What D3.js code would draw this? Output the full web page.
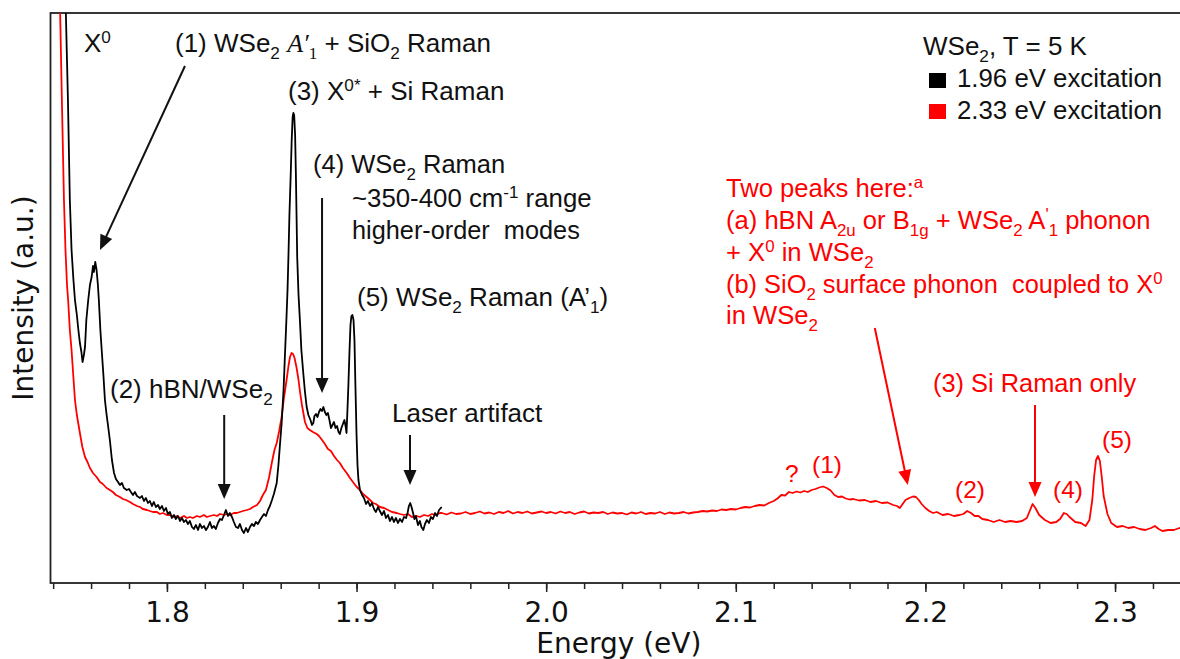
<!DOCTYPE html>
<html><head><meta charset="utf-8">
<script src="https://cdn.jsdelivr.net/npm/d3@7"></script>
<style>
html,body{margin:0;padding:0;background:#fff;}
text{white-space:pre;}
</style></head>
<body>
<svg id="chart" width="1180" height="659"></svg>
<script>
// ---------------- data ----------------
const energyDomain = [1.7386, 2.338];      // eV
const intensityDomain = [0, 114];          // a.u.
const majorTicks = [1.8, 1.9, 2.0, 2.1, 2.2, 2.3];
const minorTicks = [1.74,1.76,1.78,1.80,1.82,1.84,1.86,1.88,1.90,1.92,1.94,1.96,1.98,2.00,2.02,2.04,2.06,2.08,2.10,2.12,2.14,2.16,2.18,2.20,2.22,2.24,2.26,2.28,2.30,2.32];
const seriesNames = ["1.96 eV excitation", "2.33 eV excitation"];
const seriesColors = ["#000000", "#ff0000"];

// 1.96 eV excitation (black)
const exc196 = [
[1.7457,115.6],[1.7467,114.0],[1.7478,96.6],[1.7488,76.6],[1.7497,66.6],[1.7507,60.6],[1.7515,56.6],[1.7525,53.6],[1.7533,50.6],[1.7541,48.0],[1.7549,46.2],[1.7555,44.2],[1.7562,45.6],[1.7568,47.2],[1.7575,52.6],[1.7585,56.6],[1.7594,59.6],[1.7603,61.2],[1.7610,63.4],[1.7615,62.2],[1.7622,64.2],[1.7629,62.6],[1.7636,59.6],[1.7641,56.6],[1.7649,50.6],[1.7656,46.6],[1.7665,41.6],[1.7673,36.6],[1.7682,33.6],[1.7689,31.6],[1.7699,28.6],[1.7710,24.6],[1.7721,22.0],[1.7731,20.8],[1.7742,20.2],[1.7752,19.6],[1.7763,20.0],[1.7773,19.0],[1.7788,18.6],[1.7800,18.8],[1.7810,18.2],[1.7821,17.6],[1.7831,18.2],[1.7842,17.4],[1.7858,17.0],[1.7868,17.4],[1.7879,16.4],[1.7889,17.0],[1.7900,16.0],[1.7910,16.4],[1.7921,15.4],[1.7931,16.2],[1.7942,15.2],[1.7953,15.6],[1.7963,14.8],[1.7974,15.4],[1.7984,14.4],[1.7995,15.0],[1.8005,13.8],[1.8016,14.2],[1.8026,13.0],[1.8037,13.6],[1.8047,12.8],[1.8058,13.4],[1.8069,12.4],[1.8079,13.0],[1.8090,12.2],[1.8100,12.6],[1.8111,11.8],[1.8121,12.4],[1.8132,11.2],[1.8142,10.8],[1.8153,11.6],[1.8164,10.6],[1.8174,11.8],[1.8185,11.0],[1.8195,11.4],[1.8206,10.6],[1.8216,11.2],[1.8227,12.2],[1.8237,11.0],[1.8248,11.4],[1.8258,10.8],[1.8269,12.0],[1.8280,12.8],[1.8290,12.6],[1.8301,13.6],[1.8311,14.6],[1.8322,13.4],[1.8332,14.0],[1.8343,13.2],[1.8353,12.2],[1.8364,11.2],[1.8375,11.0],[1.8385,11.8],[1.8396,10.6],[1.8406,10.0],[1.8417,11.0],[1.8427,10.2],[1.8438,11.2],[1.8448,11.8],[1.8459,11.4],[1.8469,12.2],[1.8480,11.8],[1.8491,12.6],[1.8501,13.2],[1.8512,13.8],[1.8522,13.4],[1.8533,14.6],[1.8543,15.4],[1.8554,16.6],[1.8564,17.8],[1.8579,20.0],[1.8588,23.6],[1.8596,27.6],[1.8605,32.0],[1.8615,38.6],[1.8622,45.2],[1.8630,52.6],[1.8636,58.6],[1.8641,65.6],[1.8646,73.6],[1.8653,82.0],[1.8658,88.6],[1.8663,93.2],[1.8667,94.0],[1.8671,93.6],[1.8676,89.6],[1.8680,82.0],[1.8687,65.2],[1.8694,57.6],[1.8702,52.0],[1.8709,46.6],[1.8719,42.0],[1.8728,38.2],[1.8737,35.2],[1.8746,33.6],[1.8757,32.6],[1.8765,31.6],[1.8772,32.0],[1.8778,33.4],[1.8786,33.8],[1.8794,33.2],[1.8802,34.2],[1.8810,34.8],[1.8818,34.4],[1.8825,35.2],[1.8833,34.2],[1.8841,33.6],[1.8849,34.0],[1.8857,32.6],[1.8865,31.0],[1.8873,31.6],[1.8881,32.2],[1.8889,31.0],[1.8897,31.4],[1.8905,30.2],[1.8912,29.8],[1.8920,31.0],[1.8928,31.8],[1.8936,32.6],[1.8942,31.4],[1.8947,30.0],[1.8952,34.6],[1.8957,39.6],[1.8963,46.6],[1.8968,51.6],[1.8973,53.4],[1.8978,53.6],[1.8984,52.6],[1.8989,48.6],[1.8994,39.6],[1.9000,29.6],[1.9005,23.6],[1.9010,20.6],[1.9018,18.6],[1.9029,17.6],[1.9039,17.0],[1.9050,15.8],[1.9060,16.4],[1.9071,15.4],[1.9081,16.0],[1.9092,14.8],[1.9102,14.2],[1.9113,15.2],[1.9123,14.4],[1.9134,13.6],[1.9145,14.4],[1.9155,13.0],[1.9166,13.6],[1.9176,12.4],[1.9187,13.2],[1.9197,12.2],[1.9208,13.0],[1.9218,12.0],[1.9229,12.8],[1.9240,12.2],[1.9250,13.2],[1.9261,13.0],[1.9269,14.0],[1.9276,15.4],[1.9283,16.0],[1.9290,15.2],[1.9298,14.0],[1.9305,12.8],[1.9313,13.4],[1.9324,11.6],[1.9334,12.4],[1.9342,11.2],[1.9352,10.6],[1.9361,11.8],[1.9371,12.6],[1.9382,12.0],[1.9392,13.2],[1.9403,12.8],[1.9414,14.0],[1.9424,13.4],[1.9435,14.6],[1.9449,15.2]
];

// 2.33 eV excitation (red)
const exc233 = [
[1.7436,115.6],[1.7446,96.6],[1.7457,76.6],[1.7465,66.6],[1.7473,59.6],[1.7479,56.6],[1.7488,50.6],[1.7497,46.6],[1.7507,41.0],[1.7515,36.6],[1.7525,33.6],[1.7541,30.0],[1.7554,27.2],[1.7568,25.2],[1.7581,24.2],[1.7594,23.0],[1.7610,22.0],[1.7629,21.2],[1.7647,20.2],[1.7662,19.8],[1.7682,19.0],[1.7699,18.6],[1.7715,18.2],[1.7731,17.6],[1.7752,17.2],[1.7768,16.8],[1.7784,16.6],[1.7805,16.2],[1.7821,15.8],[1.7842,15.4],[1.7858,15.2],[1.7873,14.8],[1.7895,14.6],[1.7910,14.4],[1.7926,14.2],[1.7947,14.2],[1.7963,13.8],[1.7979,14.0],[1.8000,13.6],[1.8016,13.6],[1.8037,13.2],[1.8053,13.4],[1.8069,13.0],[1.8090,13.4],[1.8106,13.0],[1.8121,13.2],[1.8137,13.0],[1.8158,13.4],[1.8174,13.2],[1.8195,13.6],[1.8211,13.2],[1.8227,13.4],[1.8248,13.6],[1.8264,13.4],[1.8280,13.8],[1.8301,13.6],[1.8317,13.8],[1.8332,13.6],[1.8353,14.0],[1.8369,14.0],[1.8385,14.2],[1.8401,14.4],[1.8422,14.6],[1.8438,14.8],[1.8454,15.2],[1.8475,15.6],[1.8491,16.4],[1.8506,17.6],[1.8522,18.6],[1.8538,21.0],[1.8554,24.2],[1.8567,26.6],[1.8579,28.0],[1.8591,30.2],[1.8605,33.2],[1.8617,37.0],[1.8631,40.6],[1.8641,43.4],[1.8649,45.2],[1.8657,46.0],[1.8665,45.8],[1.8673,45.0],[1.8684,43.0],[1.8694,40.6],[1.8702,38.2],[1.8712,35.6],[1.8728,32.2],[1.8741,31.0],[1.8754,30.6],[1.8770,30.2],[1.8790,29.8],[1.8802,29.4],[1.8818,28.6],[1.8833,27.8],[1.8849,26.8],[1.8865,26.4],[1.8881,25.4],[1.8897,24.6],[1.8912,24.0],[1.8928,23.0],[1.8948,22.0],[1.8965,21.0],[1.8981,20.2],[1.9001,19.2],[1.9018,18.6],[1.9034,17.8],[1.9053,17.2],[1.9071,16.6],[1.9087,16.0],[1.9102,15.8],[1.9123,15.2],[1.9145,15.0],[1.9166,14.6],[1.9187,14.2],[1.9212,14.0],[1.9229,13.8],[1.9250,13.6],[1.9271,13.8],[1.9292,13.2],[1.9317,13.4],[1.9334,13.2],[1.9356,13.6],[1.9377,13.4],[1.9398,13.8],[1.9419,13.6],[1.9440,14.0],
[1.9450,14.0],[1.9475,13.7],[1.9500,14.1],[1.9525,13.8],[1.9550,13.9],[1.9575,14.2],[1.9600,13.8],[1.9625,14.0],[1.9650,14.3],[1.9675,13.9],[1.9700,14.1],[1.9725,13.8],[1.9750,14.2],[1.9775,14.0],[1.9800,14.4],[1.9825,13.9],[1.9850,14.2],[1.9875,14.0],[1.9900,14.3],[1.9925,13.9],[1.9950,14.1],[1.9975,14.3],[2.0000,14.0],[2.0025,14.2],[2.0050,13.9],[2.0075,14.3],[2.0100,14.0],[2.0125,14.2],[2.0150,13.8],[2.0175,14.1],[2.0200,14.3],[2.0225,13.9],[2.0250,14.1],[2.0275,14.0],[2.0300,14.2],[2.0325,13.8],[2.0350,14.1],[2.0375,13.9],[2.0400,14.0],[2.0425,13.7],[2.0450,14.1],[2.0475,13.9],[2.0500,14.2],[2.0525,13.8],[2.0550,14.0],[2.0575,13.9],[2.0600,14.2],[2.0625,13.8],[2.0650,14.1],[2.0675,13.9],[2.0700,14.0],[2.0725,14.2],[2.0750,13.9],[2.0775,14.1],[2.0800,14.2],[2.0825,14.4],[2.0850,14.3],[2.0875,14.5],[2.0900,14.4],[2.0925,14.7],[2.0950,14.6],[2.0975,14.8],[2.1000,14.7],[2.1025,15.0],[2.1050,15.2],[2.1075,15.1],[2.1100,15.4],[2.1125,15.6],[2.1150,15.5],[2.1175,16.0],[2.1200,16.4],[2.1220,16.9],[2.1240,17.6],[2.1260,17.5],[2.1280,18.2],[2.1300,18.0],[2.1320,18.3],[2.1340,18.1],[2.1360,18.4],[2.1380,18.2],[2.1400,18.6],[2.1420,18.8],[2.1440,19.1],[2.1460,19.3],[2.1480,19.0],[2.1500,18.5],[2.1520,17.6],[2.1540,17.2],[2.1560,17.3],[2.1580,16.9],[2.1600,16.7],[2.1620,16.8],[2.1650,16.5],[2.1680,16.6],[2.1710,16.2],[2.1740,16.4],[2.1770,16.0],[2.1800,16.1],[2.1830,15.6],[2.1850,15.4],[2.1865,15.0],[2.1880,15.8],[2.1895,16.6],[2.1915,17.0],[2.1935,17.3],[2.1950,17.2],[2.1965,16.6],[2.1980,15.8],[2.2000,15.0],[2.2020,14.4],[2.2040,14.0],[2.2060,14.2],[2.2090,13.6],[2.2120,13.8],[2.2150,13.4],[2.2180,13.6],[2.2200,13.8],[2.2220,14.4],[2.2240,14.0],[2.2260,13.4],[2.2280,13.4],[2.2300,12.8],[2.2330,12.6],[2.2360,12.2],[2.2390,12.6],[2.2420,12.2],[2.2450,12.4],[2.2480,12.2],[2.2510,12.4],[2.2535,13.0],[2.2550,14.4],[2.2565,15.8],[2.2580,15.0],[2.2600,13.6],[2.2630,12.6],[2.2660,12.0],[2.2690,12.2],[2.2710,12.8],[2.2730,14.0],[2.2745,13.8],[2.2760,13.2],[2.2790,12.2],[2.2820,12.0],[2.2845,11.4],[2.2865,12.6],[2.2880,16.6],[2.2890,21.4],[2.2900,24.6],[2.2910,25.4],[2.2920,24.4],[2.2930,21.2],[2.2940,17.4],[2.2960,13.8],[2.2980,12.0],[2.3010,11.2],[2.3040,11.4],[2.3070,11.0],[2.3100,11.2],[2.3130,10.8],[2.3160,10.6],[2.3190,11.0],[2.3210,11.4],[2.3230,10.8],[2.3250,10.4],[2.3280,10.6],[2.3310,10.6],[2.3340,11.0],[2.3380,11.0]
];

// ---------------- chart ----------------
const svg = d3.select("#chart");
const x = d3.scaleLinear().domain(energyDomain).range([50.5, 1187.1]);
const y = d3.scaleLinear().domain(intensityDomain).range([583, 13]);

const SANS = "'Liberation Sans', Arial, sans-serif";
const SERIF = "'Liberation Serif', 'Times New Roman', serif";
const DEJ = "'DejaVu Sans', sans-serif";

svg.append("defs").append("clipPath").attr("id", "plotclip")
  .append("rect").attr("x", x.range()[0]).attr("y", y.range()[1])
  .attr("width", x.range()[1] - x.range()[0]).attr("height", y.range()[0] - y.range()[1]);

svg.append("rect").attr("x", x.range()[0]).attr("y", y.range()[1])
  .attr("width", x.range()[1] - x.range()[0]).attr("height", y.range()[0] - y.range()[1])
  .attr("fill", "none").attr("stroke", "#222").attr("stroke-width", 1.8);

const minorAxis = svg.append("g").attr("transform", `translate(0,${y.range()[0]})`)
  .call(d3.axisBottom(x).tickValues(minorTicks).tickSize(6).tickFormat(""));
minorAxis.select(".domain").remove();
minorAxis.selectAll("line").attr("stroke", "#222").attr("stroke-width", 1.5);

const majorAxis = svg.append("g").attr("transform", `translate(0,${y.range()[0]})`)
  .call(d3.axisBottom(x).tickValues(majorTicks).tickSize(9).tickFormat(d3.format(".1f")));
majorAxis.select(".domain").remove();
majorAxis.selectAll("line").attr("stroke", "#222").attr("stroke-width", 1.5);
majorAxis.selectAll("text").attr("dy", null).attr("y", 39)
  .attr("font-family", DEJ).attr("font-size", 28).attr("fill", "#111");

svg.append("text").attr("x", (x.range()[0] + x.range()[1]) / 2).attr("y", 653)
  .attr("text-anchor", "middle").attr("font-family", DEJ).attr("font-size", 28).attr("fill", "#111")
  .text("Energy (eV)");
svg.append("text").attr("transform", `translate(33,${(y.range()[0] + y.range()[1]) / 2}) rotate(-90)`)
  .attr("text-anchor", "middle").attr("font-family", DEJ).attr("font-size", 28).attr("fill", "#111")
  .text("Intensity (a.u.)");

const line = d3.line().x(d => x(d[0])).y(d => y(d[1]));
const plot = svg.append("g").attr("clip-path", "url(#plotclip)");
plot.append("path").datum(exc233).attr("d", line).attr("fill", "none")
  .attr("stroke", seriesColors[1]).attr("stroke-width", 1.8).attr("stroke-linejoin", "round");
plot.append("path").datum(exc196).attr("d", line).attr("fill", "none")
  .attr("stroke", seriesColors[0]).attr("stroke-width", 1.8).attr("stroke-linejoin", "round");

// ---------------- annotations ----------------
function rich(parent, px, py, parts, opt) {
  const size = opt.size || 26;
  const t = parent.append("text").attr("x", px).attr("y", py)
    .attr("font-family", opt.family || SANS).attr("font-size", size)
    .attr("fill", opt.fill || "#111").attr("xml:space", "preserve");
  let shift = 0;
  parts.forEach(p => {
    let kind = "n", txt = p;
    if (Array.isArray(p)) { kind = p[0]; txt = p[1]; }
    let target = 0, fs = size, fam = null, style = null;
    if (kind === "sub" || kind === "ssub") { target = size * 0.27; fs = size * 0.66; }
    if (kind === "sup") { target = -size * 0.36; fs = size * 0.66; }
    if (kind === "it") { fam = SERIF; style = "italic"; }
    if (kind === "ssub") { fam = SERIF; }
    const ts = t.append("tspan").attr("dy", target - shift).attr("font-size", fs).text(txt);
    if (fam) ts.attr("font-family", fam);
    if (style) ts.attr("font-style", style);
    shift = target;
  });
  return t;
}
function arrow(parent, x1, y1, x2, y2, color) {
  const L = 15, Wd = 6.5;
  const dx = x2 - x1, dy = y2 - y1, len = Math.hypot(dx, dy);
  const ux = dx / len, uy = dy / len, nx = -uy, ny = ux;
  const bx = x2 - ux * L, by = y2 - uy * L;
  parent.append("line").attr("x1", x1).attr("y1", y1).attr("x2", bx + ux * 2).attr("y2", by + uy * 2)
    .attr("stroke", color).attr("stroke-width", 2);
  parent.append("path").attr("d", `M${x2},${y2}L${bx + nx * Wd},${by + ny * Wd}L${bx - nx * Wd},${by - ny * Wd}Z`)
    .attr("fill", color);
}

const ann = svg.append("g");
const K = "#111", R = "#ff0000";
rich(ann, 84, 52, ["X", ["sup", "0"]], { fill: K });
rich(ann, 175, 52, ["(1) WSe", ["sub", "2"], " ", ["it", "A′"], ["ssub", "1"], " + SiO", ["sub", "2"], " Raman"], { fill: K });
rich(ann, 288, 100, ["(3) X", ["sup", "0*"], " + Si Raman"], { fill: K });
rich(ann, 313, 173, ["(4) WSe", ["sub", "2"], " Raman"], { fill: K, size: 25.5 });
rich(ann, 352, 207, ["~350-400 cm", ["sup", "-1"], " range"], { fill: K, size: 25.8 });
rich(ann, 352, 239, ["higher-order  modes"], { fill: K, size: 25.3 });
rich(ann, 357, 306, ["(5) WSe", ["sub", "2"], " Raman (A’", ["sub", "1"], ")"], { fill: K });
rich(ann, 110, 398, ["(2) hBN/WSe", ["sub", "2"]], { fill: K });
rich(ann, 392, 422, ["Laser artifact"], { fill: K, size: 26 });

arrow(ann, x(1.8095), y(103.4), x(1.7647), y(66.6), K);
arrow(ann, x(1.8818), y(77), x(1.8818), y(38), K);
arrow(ann, x(1.8302), y(33.6), x(1.8302), y(16.8), K);
arrow(ann, x(1.9282), y(29.6), x(1.9282), y(19.6), K);

const RS = 25.6;
rich(ann, 726, 197, ["Two peaks here:", ["sup", "a"]], { fill: R, size: RS });
rich(ann, 726, 229, ["(a) hBN A", ["sub", "2u"], " or B", ["sub", "1g"], " + WSe", ["sub", "2"], " A", ["sup", "'"], ["sub", "1"], " phonon"], { fill: R, size: RS });
rich(ann, 726, 261, ["+ X", ["sup", "0"], " in WSe", ["sub", "2"]], { fill: R, size: RS });
rich(ann, 726, 293, ["(b) SiO", ["sub", "2"], " surface phonon  coupled to X", ["sup", "0"]], { fill: R, size: 25.4 });
rich(ann, 726, 324, ["in WSe", ["sub", "2"]], { fill: R, size: RS });
rich(ann, 933, 392, ["(3) Si Raman only"], { fill: R, size: 25.4 });
rich(ann, 785, 482, ["?"], { fill: R, size: 24.5 });
rich(ann, 812, 473, ["(1)"], { fill: R, size: 24.5 });
rich(ann, 955, 498, ["(2)"], { fill: R, size: 24.5 });
rich(ann, 1053, 498, ["(4)"], { fill: R, size: 24.5 });
rich(ann, 1102, 448, ["(5)"], { fill: R, size: 24.5 });

arrow(ann, x(2.1733), y(51), x(2.1907), y(19.6), R);
arrow(ann, x(2.2578), y(35.6), x(2.2578), y(17.2), R);

const leg = svg.append("g");
rich(leg, 923, 55, ["WSe", ["sub", "2"], ", T = 5 K"], { fill: K, size: 26 });
seriesNames.forEach((name, i) => {
  leg.append("rect").attr("x", 929).attr("y", 73 + i * 31).attr("width", 17).attr("height", 15)
    .attr("fill", seriesColors[i]);
  rich(leg, 957, 87 + i * 32, [name], { fill: K, size: 25.8 });
});
</script>
</body></html>
